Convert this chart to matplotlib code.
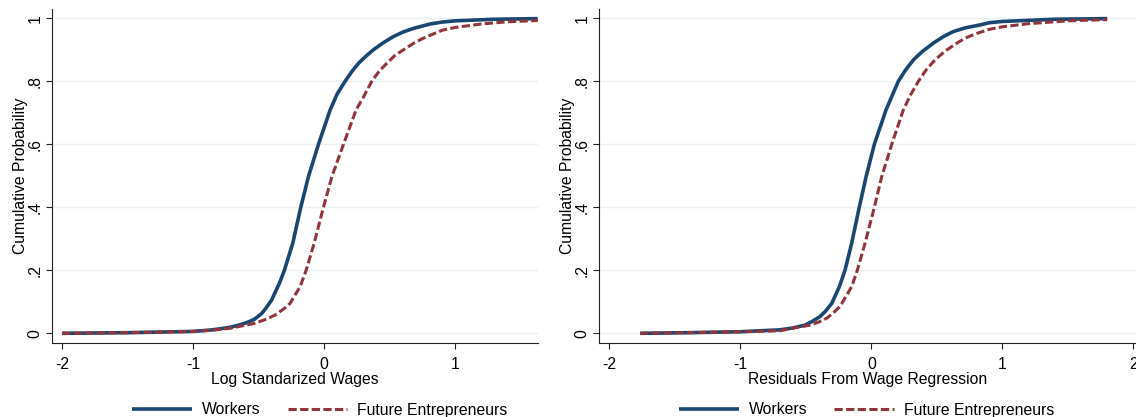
import matplotlib
matplotlib.use('Agg')
import matplotlib.pyplot as plt

plt.rcParams['font.family'] = ['Liberation Sans', 'DejaVu Sans']

# ---------- data ----------
# left panel: log standarized wages
wage_x_workers = [-2.0, -1.5, -1.0, -0.85, -0.718, -0.65, -0.59, -0.53, -0.476, -0.44, -0.40, -0.341,
                  -0.303, -0.239, -0.178, -0.12, -0.043, 0.046, 0.10, 0.160, 0.21, 0.262, 0.32, 0.376,
                  0.45, 0.529, 0.60, 0.682, 0.809, 0.9, 1.0, 1.3, 1.63]
wage_y_workers = [0.0, 0.002, 0.006, 0.011, 0.019, 0.026, 0.034, 0.045, 0.063, 0.082, 0.106, 0.159,
                  0.2, 0.286, 0.4, 0.497, 0.6, 0.709, 0.76, 0.8, 0.83, 0.857, 0.88, 0.9,
                  0.922, 0.942, 0.956, 0.968, 0.982, 0.988, 0.992, 0.997, 0.999]
wage_x_entre = [-2.0, -1.5, -1.0, -0.85, -0.718, -0.62, -0.527, -0.44, -0.374, -0.30, -0.26, -0.183,
                -0.137, -0.076, -0.005, 0.059, 0.148, 0.244, 0.30, 0.364, 0.42, 0.478, 0.54, 0.606,
                0.68, 0.758, 0.9, 1.0, 1.2, 1.4, 1.63]
wage_y_entre = [0.0, 0.002, 0.006, 0.01, 0.016, 0.024, 0.032, 0.045, 0.058, 0.08, 0.095, 0.148,
                0.2, 0.286, 0.4, 0.497, 0.6, 0.709, 0.75, 0.8, 0.832, 0.857, 0.882, 0.9,
                0.92, 0.937, 0.962, 0.971, 0.982, 0.989, 0.993]

# right panel: residuals from wage regression
resid_x_workers = [-1.764, -1.4, -1.0, -0.8, -0.697, -0.6, -0.506, -0.45, -0.392, -0.35, -0.302,
                   -0.244, -0.201, -0.150, -0.092, -0.040, 0.023, 0.112, 0.206, 0.26, 0.321, 0.39,
                   0.473, 0.55, 0.626, 0.72, 0.830, 0.9, 1.0, 1.4, 1.8]
resid_y_workers = [0.0, 0.002, 0.005, 0.009, 0.011, 0.017, 0.026, 0.038, 0.053, 0.07, 0.095,
                   0.148, 0.2, 0.286, 0.4, 0.497, 0.6, 0.709, 0.8, 0.835, 0.868, 0.895,
                   0.921, 0.942, 0.958, 0.970, 0.979, 0.986, 0.99, 0.997, 0.999]
resid_x_entre = [-1.764, -1.4, -1.0, -0.8, -0.697, -0.58, -0.468, -0.40, -0.34, -0.29, -0.239,
                 -0.150, -0.107, -0.048, 0.023, 0.079, 0.156, 0.244, 0.30, 0.359, 0.42, 0.486,
                 0.56, 0.652, 0.72, 0.805, 0.9, 1.0, 1.2, 1.5, 1.8]
resid_y_entre = [0.0, 0.002, 0.005, 0.007, 0.008, 0.018, 0.026, 0.036, 0.048, 0.065, 0.085,
                 0.148, 0.2, 0.286, 0.4, 0.497, 0.6, 0.709, 0.757, 0.8, 0.837, 0.868,
                 0.895, 0.921, 0.938, 0.952, 0.965, 0.973, 0.983, 0.992, 0.996]

y_ticks = [0, 0.2, 0.4, 0.6, 0.8, 1.0]
y_tick_labels = ['0', '.2', '.4', '.6', '.8', '1']
series_names = ['Workers', 'Future Entrepreneurs']

BLUE = '#1A476F'
RED = '#90353B'
GRID = '#EAF2F3'
FS = 11.3

W, H = 1136, 417
fig = plt.figure(figsize=(W / 100, H / 100), dpi=100)


def px_box(left, right, bottom, top):
    return [left / W, 1 - bottom / H, (right - left) / W, (bottom - top) / H]


def style_axes(ax, xlabel, xticks, xlim):
    ax.set_xlim(*xlim)
    ax.set_ylim(-0.0298, 1.0286)
    for s in ['top', 'right']:
        ax.spines[s].set_visible(False)
    for s in ['left', 'bottom']:
        ax.spines[s].set_linewidth(0.8)
        ax.spines[s].set_color('#222222')
    ax.set_yticks(y_ticks)
    ax.set_yticklabels(y_tick_labels, rotation=90, va='center')
    ax.set_xticks(xticks)
    ax.set_xticklabels([str(t) for t in xticks])
    ax.tick_params(length=4, width=0.8, color='#222222', labelsize=FS, pad=3)
    ax.tick_params(axis='x', pad=6.5)
    ax.grid(axis='y', color=GRID, linewidth=1.0)
    ax.set_axisbelow(True)
    ax.set_xlabel(xlabel, fontsize=FS, labelpad=0)
    ax.set_ylabel('Cumulative Probability', fontsize=FS, labelpad=0)


line_kw_w = dict(color=BLUE, lw=2.6, solid_capstyle='butt', solid_joinstyle='round')
line_kw_e = dict(color=RED, lw=2.2, dashes=(2.7, 1.1), dash_joinstyle='round')

ax1 = fig.add_axes(px_box(52.3, 537.7, 342.7, 9.3))
l1, = ax1.plot(wage_x_workers, wage_y_workers, **line_kw_w)
l2, = ax1.plot(wage_x_entre, wage_y_entre, **line_kw_e)
style_axes(ax1, 'Log Standarized Wages', [-2, -1, 0, 1], (-2.074, 1.63))

ax2 = fig.add_axes(px_box(599.3, 1136, 342.7, 9.3))
ax2.plot(resid_x_workers, resid_y_workers, **line_kw_w)
ax2.plot(resid_x_entre, resid_y_entre, **line_kw_e)
style_axes(ax2, 'Residuals From Wage Regression', [-2, -1, 0, 1, 2], (-2.076, 2.02))

for cx in (320 / W, 866.5 / W):
    fig.legend([l1, l2], series_names, loc='center', bbox_to_anchor=(cx, 1 - 410 / H),
               ncol=2, frameon=False, fontsize=FS, handlelength=3.8, handletextpad=0.65,
               columnspacing=1.7, borderpad=0, borderaxespad=0)

fig.savefig('out.png', dpi=100)
